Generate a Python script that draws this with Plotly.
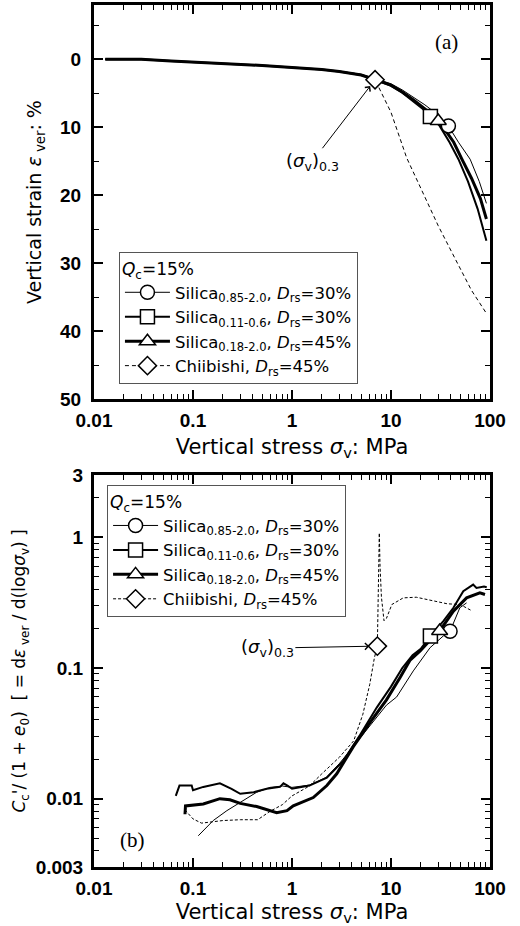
import numpy as np
import plotly.graph_objects as go

# ---------------- data: panel (a) vertical strain (%) vs vertical stress (MPa)
a_s085_x = [0.013, 0.03, 0.06, 0.1, 0.2, 0.5, 1, 2, 3, 5, 7, 10, 13, 17, 22, 30, 38, 48, 63, 78, 92]
a_s085_y = [0, 0, 0.25, 0.4, 0.6, 0.9, 1.2, 1.5, 1.75, 2.2, 2.9, 3.6, 4.5, 5.6, 6.7, 8.2, 9.8, 12.2, 14.7, 18.0, 21.2]
a_s011_x = [0.013, 0.03, 0.06, 0.1, 0.2, 0.5, 1, 2, 3, 5, 7, 10, 13, 17, 21, 25, 31, 39, 48, 60, 75, 92]
a_s011_y = [0, 0, 0.25, 0.4, 0.6, 0.9, 1.2, 1.5, 1.8, 2.3, 3.0, 3.9, 4.9, 6.2, 7.3, 8.4, 9.8, 12.2, 14.7, 18.0, 22.0, 26.7]
a_s018_x = [0.013, 0.03, 0.06, 0.1, 0.2, 0.5, 1, 2, 3, 5, 7, 10, 13, 17, 22, 30, 33, 43, 52, 65, 80, 92]
a_s018_y = [0, 0, 0.25, 0.4, 0.6, 0.9, 1.2, 1.5, 1.8, 2.3, 3.0, 3.8, 4.8, 6.0, 7.3, 9.07, 9.8, 12.2, 14.7, 17.5, 20.5, 23.5]
a_chi_x = [0.013, 0.03, 0.06, 0.1, 0.2, 0.5, 1, 2, 3, 5, 6.9, 10, 14.4, 20, 30, 45, 65, 93]
a_chi_y = [0, 0, 0.25, 0.4, 0.6, 0.9, 1.2, 1.5, 1.8, 2.3, 3.0, 7.8, 14.5, 19.0, 24.5, 29.5, 34.0, 37.5]
a_mark_x = [38, 25, 30, 6.9]
a_mark_y = [9.8, 8.4, 9.07, 3.0]

# ---------------- data: panel (b) Cc'/(1+e0) vs vertical stress (MPa)
b_s085_x = [0.113, 0.16, 0.22, 0.30, 0.44, 0.6, 0.8, 1.0, 1.5, 2.2, 3.0, 4.5, 6.5, 9.0, 11.4, 16.8, 24.8, 33.8, 39.5, 49.6, 58]
b_s085_y = [0.0052, 0.0068, 0.0081, 0.0094, 0.0112, 0.0122, 0.0125, 0.0122, 0.0127, 0.0145, 0.0185, 0.027, 0.038, 0.052, 0.060, 0.095, 0.143, 0.176, 0.191, 0.289, 0.315]
b_s011_x = [0.067, 0.073, 0.097, 0.1, 0.127, 0.187, 0.245, 0.30, 0.41, 0.556, 0.757, 0.82, 0.9, 1.0, 1.5, 2.25, 3.3, 4.9, 7.2, 10, 13, 16.5, 20, 25, 33.8, 42.7, 53.7, 60, 67.6, 73, 87, 92.7]
b_s011_y = [0.0105, 0.0126, 0.0126, 0.0116, 0.0123, 0.0131, 0.0119, 0.0109, 0.0112, 0.0119, 0.0123, 0.0131, 0.0126, 0.0119, 0.0126, 0.0145, 0.0195, 0.031, 0.050, 0.072, 0.10, 0.125, 0.14, 0.176, 0.228, 0.289, 0.387, 0.41, 0.435, 0.41, 0.42, 0.415]
b_s018_x = [0.083, 0.084, 0.127, 0.187, 0.236, 0.3, 0.44, 0.6, 0.70, 0.89, 1.03, 1.64, 2.25, 2.83, 4.16, 6.1, 9.0, 12.4, 15.6, 19.7, 26, 31, 42.7, 58, 79, 89]
b_s018_y = [0.0076, 0.0088, 0.0091, 0.0100, 0.0098, 0.0092, 0.0087, 0.0081, 0.0078, 0.0081, 0.0088, 0.0102, 0.0126, 0.0155, 0.025, 0.038, 0.057, 0.085, 0.115, 0.135, 0.17, 0.192, 0.272, 0.344, 0.376, 0.365]
b_chi_x = [0.083, 0.1, 0.122, 0.2, 0.3, 0.45, 0.6, 0.8, 1.0, 1.5, 2.0, 3.0, 4.2, 5.2, 6.1, 6.8, 7.28, 7.5, 7.62, 7.75, 8.0, 8.5, 9.0, 10.2, 13.3, 18, 27, 37, 50, 65]
b_chi_y = [0.0082, 0.0070, 0.0065, 0.0068, 0.0069, 0.0069, 0.0080, 0.0090, 0.0105, 0.0125, 0.0155, 0.0207, 0.0277, 0.0443, 0.075, 0.12, 0.147, 0.4, 1.08, 0.6, 0.35, 0.23, 0.24, 0.306, 0.344, 0.348, 0.325, 0.31, 0.306, 0.275]
b_mark_x = [39.5, 25, 31, 7.28]
b_mark_y = [0.191, 0.176, 0.192, 0.147]

series_names = [
    "Silica<sub>0.85-2.0</sub>, <i>D</i><sub>rs</sub>=30%",
    "Silica<sub>0.11-0.6</sub>, <i>D</i><sub>rs</sub>=30%",
    "Silica<sub>0.18-2.0</sub>, <i>D</i><sub>rs</sub>=45%",
    "Chiibishi, <i>D</i><sub>rs</sub>=45%",
]
legend_title = "<i>Q</i><sub>c</sub>=15%"
x_ticks = [0.01, 0.1, 1, 10, 100]
x_ticktext = ["0.01", "0.1", "1", "10", "100"]
ya_ticks = [0, 10, 20, 30, 40, 50]
yb_ticks = [0.003, 0.01, 0.1, 1, 3]
yb_ticktext = ["0.003", "0.01", "0.1", "1", "3"]

symbols = ["circle", "square", "triangle-up", "diamond"]
widths = [1.0, 2.0, 3.0, 1.0]
dash_a = ["solid", "solid", "solid", "4px,3px"]
dash_b = ["solid", "solid", "solid", "3px,2px"]

FONT = "Liberation Sans, Arial, sans-serif"
WIDE = "DejaVu Sans, Verdana, sans-serif"
SERIF = "Liberation Serif, Times New Roman, serif"
fig = go.Figure()

a_curves = [(a_s085_x, a_s085_y), (a_s011_x, a_s011_y), (a_s018_x, a_s018_y), (a_chi_x, a_chi_y)]
b_curves = [(b_s085_x, b_s085_y), (b_s011_x, b_s011_y), (b_s018_x, b_s018_y), (b_chi_x, b_chi_y)]

for i, (cx, cy) in enumerate(a_curves):
    fig.add_trace(go.Scatter(x=cx, y=cy, mode="lines", xaxis="x", yaxis="y",
                             line=dict(color="black", width=widths[i], dash=dash_a[i]),
                             showlegend=False, hoverinfo="skip"))
for i in range(4):
    fig.add_trace(go.Scatter(x=[a_mark_x[i]], y=[a_mark_y[i]], mode="lines+markers",
                             xaxis="x", yaxis="y", name=series_names[i], legend="legend",
                             line=dict(color="black", width=widths[i], dash=dash_a[i]),
                             marker=dict(symbol=symbols[i], size=14, color="white",
                                         line=dict(color="black", width=1.5))))
for i, (cx, cy) in enumerate(b_curves):
    fig.add_trace(go.Scatter(x=cx, y=cy, mode="lines", xaxis="x2", yaxis="y2",
                             line=dict(color="black", width=widths[i], dash=dash_b[i]),
                             showlegend=False, hoverinfo="skip"))
for i in range(4):
    fig.add_trace(go.Scatter(x=[b_mark_x[i]], y=[b_mark_y[i]], mode="lines+markers",
                             xaxis="x2", yaxis="y2", name=series_names[i], legend="legend2",
                             line=dict(color="black", width=widths[i], dash=dash_b[i]),
                             marker=dict(symbol=symbols[i], size=14, color="white",
                                         line=dict(color="black", width=1.5))))

minor_log = [k * 10.0 ** e for e in range(-3, 2) for k in range(2, 10)]
tickfont = dict(family=FONT, size=19, color="black", weight="bold")
xtitlefont = dict(family=WIDE, size=21, color="black")

common_x = dict(type="log", range=[-2, 2], tickvals=x_ticks, ticktext=x_ticktext,
                ticks="inside", ticklen=9, tickwidth=1.5, tickcolor="black",
                showline=True, linewidth=3, linecolor="black", mirror="allticks",
                showgrid=False, zeroline=False, tickfont=tickfont, automargin=False,
                ticklabelstandoff=2,
                minor=dict(tickvals=minor_log, ticks="inside", ticklen=5, tickwidth=1, tickcolor="black", showgrid=False))

legend_common = dict(xanchor="left", yanchor="top", bgcolor="white", bordercolor="#555", borderwidth=1,
                     font=dict(family=WIDE, size=16.5, color="black"),
                     title=dict(text=legend_title, font=dict(family=WIDE, size=17, color="black")),
                     tracegroupgap=0, itemclick=False, itemwidth=45)

fig.update_layout(
    width=520, height=926,
    margin=dict(l=94, r=30, t=5, b=59, autoexpand=False),
    paper_bgcolor="white", plot_bgcolor="white",
    font=dict(family=FONT, color="black"),
    xaxis=dict(domain=[0, 1], anchor="y",
               title=dict(text="Vertical stress <i>σ</i><sub>v</sub>: MPa", font=xtitlefont, standoff=10),
               **common_x),
    yaxis=dict(domain=[0.5429, 1.0], anchor="x", range=[50, -8], tickvals=ya_ticks,
               ticks="inside", ticklen=9, tickwidth=1.5, tickcolor="black",
               showline=True, linewidth=3, linecolor="black", mirror="allticks",
               showgrid=False, zeroline=False, tickfont=tickfont, ticklabelstandoff=6, automargin=False,
               minor=dict(dtick=5, ticks="inside", ticklen=5, tickwidth=1, tickcolor="black", showgrid=False),
               title=dict(text="Vertical strain <i>ε</i><sub> ver</sub>: %", font=dict(family=WIDE, size=19, color="black"), standoff=14)),
    xaxis2=dict(domain=[0, 1], anchor="y2",
                title=dict(text="Vertical stress <i>σ</i><sub>v</sub>: MPa", font=xtitlefont, standoff=12),
                **common_x),
    yaxis2=dict(domain=[0, 0.4548], anchor="x2", type="log",
                range=[np.log10(yb_ticks[0]), np.log10(yb_ticks[-1])],
                tickvals=yb_ticks, ticktext=yb_ticktext,
                ticks="inside", ticklen=9, tickwidth=1.5, tickcolor="black",
                showline=True, linewidth=3, linecolor="black", mirror="allticks",
                showgrid=False, zeroline=False, tickfont=tickfont, ticklabelstandoff=4, automargin=False,
                minor=dict(tickvals=minor_log, ticks="inside", ticklen=5, tickwidth=1, tickcolor="black", showgrid=False),
                title=dict(text="<i>C</i><sub>c</sub>'/ (1 + <i>e</i><sub>0</sub>)  [ = d<i>ε</i><sub> ver</sub> / d(log<i>σ</i><sub>v</sub>) ]",
                           font=dict(family=WIDE, size=17, color="black"), standoff=6)),
    legend=dict(x=0.063, y=0.7135, **legend_common),
    legend2=dict(x=0.033, y=0.443, **legend_common),
    showlegend=True,
)

annots = [
    dict(x=0.891, y=0.957, xref="paper", yref="paper", text="(a)", showarrow=False,
         xanchor="center", yanchor="middle", font=dict(family=SERIF, size=21, color="black")),
    dict(x=0.098, y=0.0313, xref="paper", yref="paper", text="(b)", showarrow=False,
         xanchor="center", yanchor="middle", font=dict(family=SERIF, size=21, color="black")),
    dict(x=np.log10(a_mark_x[3]), y=a_mark_y[3], xref="x", yref="y",
         text="(<i>σ</i><sub>v</sub>)<sub>0.3</sub>", showarrow=True,
         ax=-63, ay=82, arrowhead=4, arrowsize=1.3, arrowwidth=1, arrowcolor="black", standoff=8,
         font=dict(family=WIDE, size=18, color="black")),
    dict(x=np.log10(b_mark_x[3]), y=np.log10(b_mark_y[3]), xref="x2", yref="y2",
         text="(<i>σ</i><sub>v</sub>)<sub>0.3</sub>", showarrow=True,
         ax=-110, ay=2, arrowhead=4, arrowsize=1.3, arrowwidth=1, arrowcolor="black", standoff=8,
         font=dict(family=WIDE, size=18, color="black")),
]
fig.update_layout(annotations=annots)

fig.write_html("out.html")
